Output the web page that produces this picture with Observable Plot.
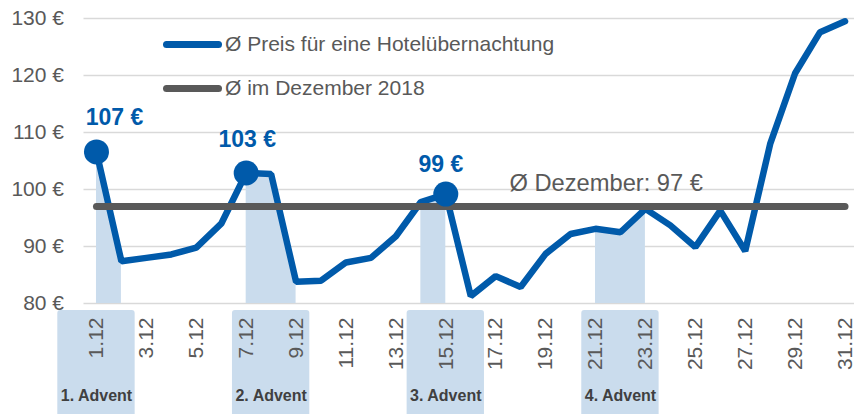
<!DOCTYPE html>
<html>
<head>
<meta charset="utf-8">
<script src="https://cdn.jsdelivr.net/npm/d3@7"></script>
<script src="https://cdn.jsdelivr.net/npm/@observablehq/plot@0.6"></script>
<style>
  body { margin: 0; background: #fff; }
  #wrap { position: relative; width: 854px; height: 414px; font-family: "Liberation Sans", Arial, sans-serif; }
  .legend { position: absolute; left: 163px; top: 32px; color: #595959; font-size: 21px; }
  .row { display: flex; align-items: center; height: 24px; margin-bottom: 20px; white-space: nowrap; }
  .sw { width: 59px; height: 7px; border-radius: 3.5px; margin-right: 3px; }
</style>
</head>
<body>
<div id="wrap"></div>
<script>
// ---- data ----
const days = [1,2,3,4,5,6,7,8,9,10,11,12,13,14,15,16,17,18,19,20,21,22,23,24,25,26,27,28,29,30,31];
const prices = [106.6, 87.4, 88.0, 88.6, 89.8, 94.0, 102.9, 102.7, 83.8, 84.0, 87.2, 88.0, 91.8, 97.8, 99.2,
                81.3, 84.8, 82.9, 88.7, 92.2, 93.1, 92.5, 96.6, 93.7, 89.9, 96.3, 89.2, 108.0, 120.4, 127.6, 129.5];
const decemberAvg = 97;
const peakDays = [1, 7, 15];
const adventRanges = [[1, 2], [7, 9], [14, 15], [21, 23]];
const adventNames = ["1. Advent", "2. Advent", "3. Advent", "4. Advent"];
const adventLabelDays = [1, 8, 15, 22];
const xTickDays = [1,3,5,7,9,11,13,15,17,19,21,23,25,27,29,31];
const yTicks = [80, 90, 100, 110, 120, 130];
const legendLabels = ["Ø Preis für eine Hotelübernachtung", "Ø im Dezember 2018"];

// ---- styles ----
const BLUE = "#005AAA", GREY = "#595959", SHADE = "#CADCED";

const series = days.map((day, i) => ({day, price: prices[i]}));
const shade = adventRanges.flatMap(([a, b], g) =>
  series.filter(d => d.day >= a && d.day <= b).map(d => ({...d, g})));
const advent = adventNames.map((name, i) => ({name, day: adventLabelDays[i]}));
const avgLine = [days[0], days[days.length - 1]].map(day => ({day, price: decemberAvg}));
const peak = d => series.filter(s => s.day === d);
const euro = d => `${Math.round(d.price)} €`;

const chart = Plot.plot({
  width: 854,
  height: 414,
  marginLeft: 83.5,
  marginRight: 0,
  marginTop: 18,
  marginBottom: 111,
  style: {fontFamily: "'Liberation Sans', Arial, sans-serif", fontSize: "21px", color: GREY, background: "white", overflow: "visible"},
  x: {domain: [0.5, 31.38]},
  y: {domain: [yTicks[0], yTicks[yTicks.length - 1]]},
  marks: [
    Plot.ruleY(yTicks, {stroke: "#D9D9D9", strokeWidth: 1.5}),
    Plot.rect(advent, {x1: d => d.day - 1.55, x2: d => d.day + 1.55, y1: 59.5, y2: 78.77, fill: SHADE, rx: 3}),
    Plot.axisX({ticks: xTickDays, tickFormat: d => `${d}.12`, tickRotate: -90, tickSize: 0, tickPadding: 14, label: null, fontSize: 21, fill: GREY}),
    Plot.axisY({ticks: yTicks, tickFormat: d => `${d} €`, tickSize: 0, tickPadding: 20, label: null, fontSize: 21, fill: GREY}),
    Plot.area(shade, {x1: "day", y1: yTicks[0], y2: "price", z: "g", fill: SHADE}),
    Plot.line(series, {x: "day", y: "price", stroke: BLUE, strokeWidth: 6.5, strokeLinejoin: "miter", strokeLinecap: "round"}),
    Plot.line(avgLine, {x: "day", y: "price", stroke: GREY, strokeWidth: 7, strokeLinecap: "round"}),
    Plot.dot(series.filter(d => peakDays.includes(d.day)), {x: "day", y: "price", r: 12.5, fill: BLUE}),
    Plot.text(peak(peakDays[0]), {x: "day", y: "price", text: euro, dx: 18, dy: -34, fill: BLUE, fontSize: 23, fontWeight: "bold"}),
    Plot.text(peak(peakDays[1]), {x: "day", y: "price", text: euro, dx: 1, dy: -33, fill: BLUE, fontSize: 23, fontWeight: "bold"}),
    Plot.text(peak(peakDays[2]), {x: "day", y: "price", text: euro, dx: -5, dy: -29, fill: BLUE, fontSize: 23, fontWeight: "bold"}),
    Plot.text([decemberAvg], {x: 17.55, y: d => d, text: d => `Ø Dezember: ${d} €`, textAnchor: "start", dy: -23, fill: GREY, fontSize: 23.7}),
    Plot.text(advent, {x: "day", frameAnchor: "bottom", text: "name", dy: 97, fill: "#404040", fontSize: 16, fontWeight: "bold"})
  ]
});

const wrap = document.getElementById("wrap");
wrap.appendChild(chart);
const legend = document.createElement("div");
legend.className = "legend";
[BLUE, GREY].forEach((c, i) => {
  const row = document.createElement("div");
  row.className = "row";
  const sw = document.createElement("span");
  sw.className = "sw";
  sw.style.background = c;
  const t = document.createElement("span");
  t.textContent = legendLabels[i];
  row.append(sw, t);
  legend.appendChild(row);
});
wrap.appendChild(legend);
</script>
</body>
</html>
